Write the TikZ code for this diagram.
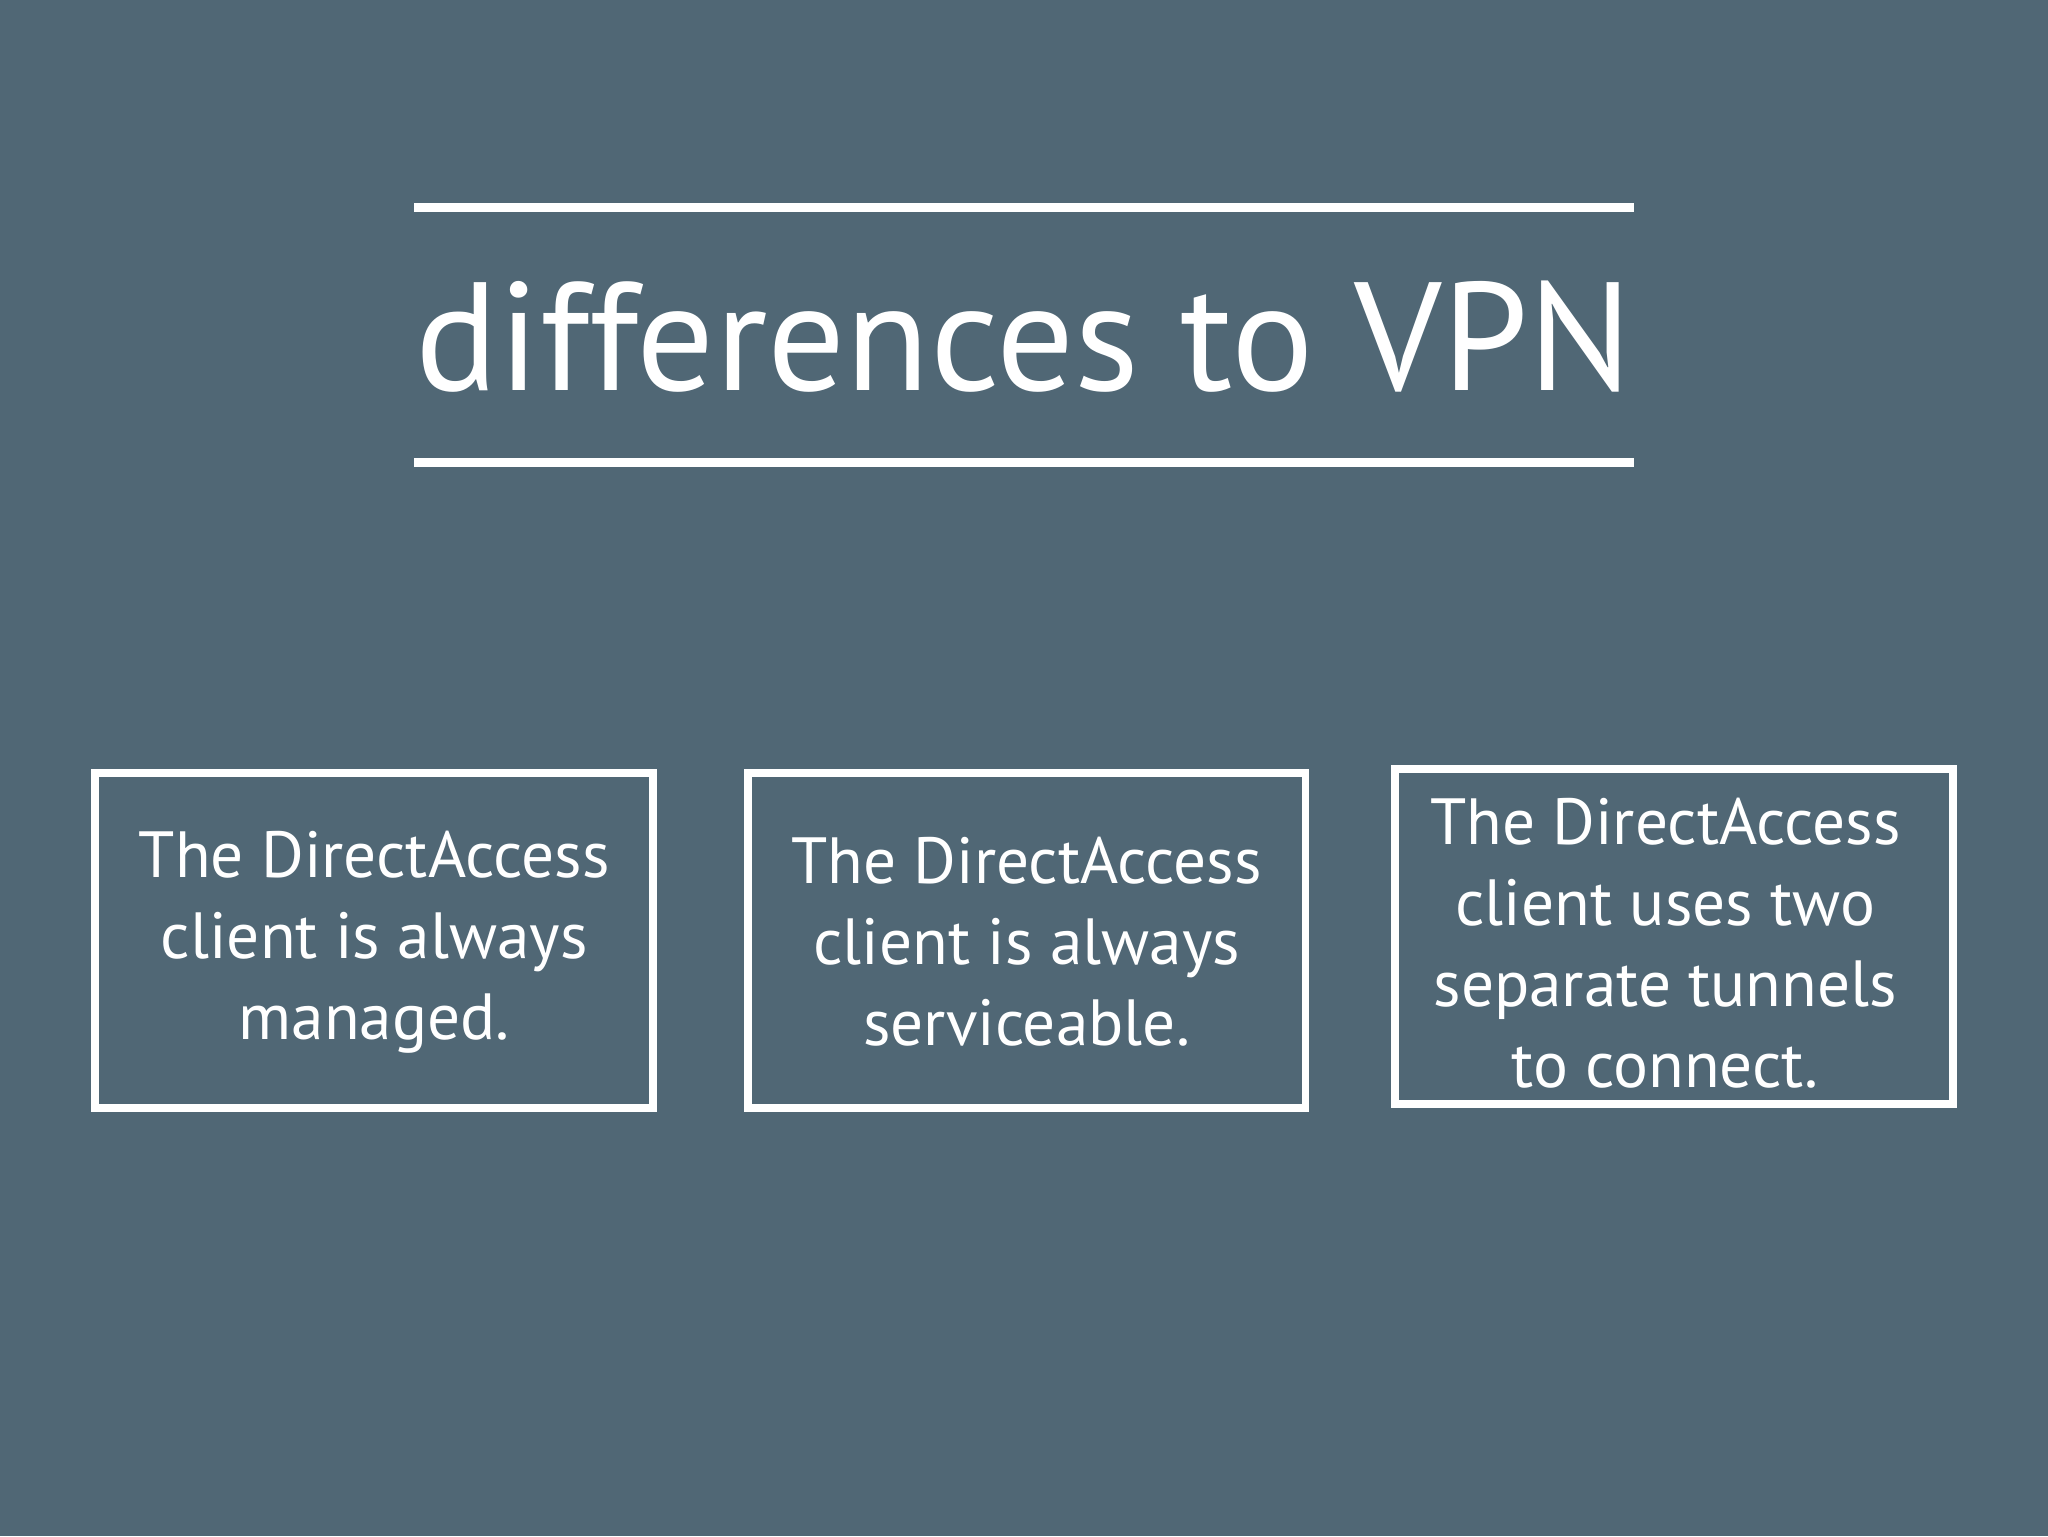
\documentclass[tikz,border=0pt]{standalone}
\usepackage{fontspec}
\setmainfont{PT Sans}
\definecolor{bg}{HTML}{506775}
\begin{document}
\begin{tikzpicture}[x=1pt,y=-1pt,
  card/.style={draw=white,line width=6pt,minimum width=427pt,minimum height=256pt,inner sep=0pt},
  cardtext/.style={text=white,align=center,font=\fontsize{50}{62}\selectfont,inner sep=0pt},
  rule/.style={white,line width=7pt}]
\fill[bg] (0,0) rectangle (1568,1176);
\useasboundingbox (0,0) rectangle (1568,1176);
\coordinate (l1a) at (317,159); \coordinate (l1b) at (1251,159);
\coordinate (l2a) at (317,354); \coordinate (l2b) at (1251,354);
\draw[rule] (l1a) -- (l1b);
\draw[rule] (l2a) -- (l2b);
\node[text=white,font=\fontsize{118}{130}\selectfont,inner sep=0pt] (title) at (784,258) {differences to VPN};
\node[card] (b1) at (286.5,720) {};
\node[card] (b2) at (786,720) {};
\node[card] (b3) at (1281.5,717) {};
\node[cardtext] (t1) at (286.5,721) {The DirectAccess\\client is always\\managed.};
\node[cardtext] (t2) at (786,721) {The DirectAccess\\client is always\\serviceable.};
\node[cardtext] (t3) at (1275,722) {The DirectAccess\\client uses two\\separate tunnels\\to connect.};
\end{tikzpicture}
\end{document}
